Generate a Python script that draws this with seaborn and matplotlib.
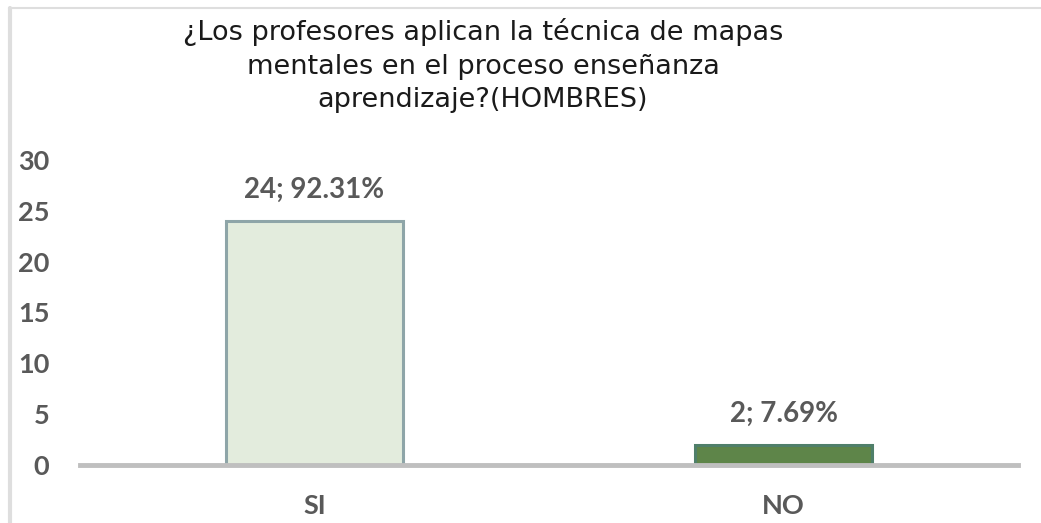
import pandas as pd
import numpy as np
import matplotlib
matplotlib.use("Agg")
import matplotlib.pyplot as plt
import seaborn as sns

categories = ['SI', 'NO']
counts = [24, 2]
percents = ['92.31%', '7.69%']
yticks = [0, 5, 10, 15, 20, 25, 30]
title = '¿Los profesores aplican la técnica de mapas\nmentales en el proceso enseñanza\naprendizaje?(HOMBRES)'

fill_colors = ['#e2efda', '#5b8f3f']
edge_colors = ['#8ea5a8', '#4f7f6a']
grey_text = '#595959'

df = pd.DataFrame({'respuesta': categories, 'cantidad': counts})

sns.set_style('white')
plt.rcParams['font.family'] = ['Lato', 'DejaVu Sans']

fig = plt.figure(figsize=(10.41, 5.23), dpi=100)
ax = fig.add_axes([0.0768, 0.111, 0.9012, 0.583])

sns.barplot(data=df, x='respuesta', y='cantidad', hue='respuesta',
            palette=fill_colors, width=0.377, legend=False, ax=ax)
for patch, ec in zip(ax.patches, edge_colors):
    patch.set_edgecolor(ec)
    patch.set_linewidth(2.2)

for i, (c, p) in enumerate(zip(counts, percents)):
    ax.annotate(f'{c}; {p}', (i, c), xytext=(0, 13), textcoords='offset points',
                ha='center', va='bottom', fontsize=20, fontweight='bold',
                color=grey_text)

ax.set_ylim(0, 30)
ax.set_xlim(-0.5, 1.5)
ax.set_yticks(yticks)
ax.set_xlabel('')
ax.set_ylabel('')
ax.tick_params(axis='y', length=0, pad=22, labelsize=19.5, labelcolor=grey_text)
ax.tick_params(axis='x', length=0, pad=21, labelsize=19.5, labelcolor=grey_text)
for lab in ax.get_xticklabels() + ax.get_yticklabels():
    lab.set_fontweight('bold')

for s in ['top', 'right', 'left']:
    ax.spines[s].set_visible(False)
ax.spines['bottom'].set_color('#bfbfbf')
ax.spines['bottom'].set_linewidth(3.5)

# chart frame (top and left borders)
fig.add_artist(plt.Line2D([0.009, 1.0], [0.984, 0.984], color='#dedede', lw=1.5))
fig.add_artist(plt.Line2D([0.0095, 0.0095], [0.0, 0.984], color='#dedede', lw=3))

fig.text(0.464, 0.874, title, ha='center', va='center', fontsize=19.5,
         family='DejaVu Sans', color='#1a1a1a', linespacing=1.38)

fig.savefig('out.png', dpi=100)
